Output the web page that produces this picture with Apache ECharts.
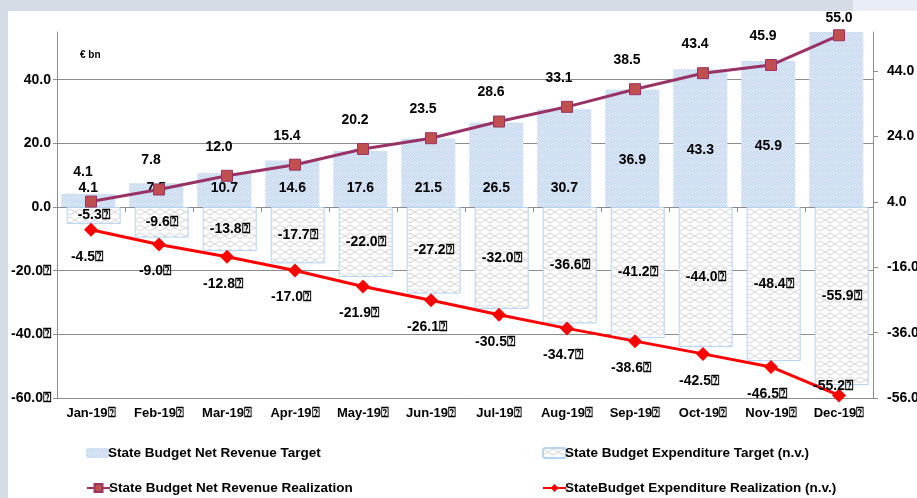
<!DOCTYPE html>
<html>
<head>
<meta charset="utf-8">
<script src="https://cdn.jsdelivr.net/npm/echarts@6/dist/echarts.min.js"></script>
<style>
  body { margin: 0; background: #d6dce5; }
  #panel { position: absolute; left: 8px; top: 11px; right: 0; bottom: 0; background: #fff; }
  #strip { position: absolute; left: 853px; top: 0; width: 64px; height: 11px; background: #e9edf5; }
  #chart { position: absolute; left: 0; top: 0; width: 917px; height: 498px; }
</style>
</head>
<body>
<div id="strip"></div>
<div id="panel"></div>
<div id="chart"></div>
<script>
const months = ['Jan-19', 'Feb-19', 'Mar-19', 'Apr-19', 'May-19', 'Jun-19', 'Jul-19', 'Aug-19', 'Sep-19', 'Oct-19', 'Nov-19', 'Dec-19']
const revenueTarget = [4.1, 7.5, 10.7, 14.6, 17.6, 21.5, 26.5, 30.7, 36.9, 43.3, 45.9, 55.0]
const expenditureTarget = [-5.3, -9.6, -13.8, -17.7, -22.0, -27.2, -32.0, -36.6, -41.2, -44.0, -48.4, -55.9]
const revenueReal = [4.1, 7.8, 12.0, 15.4, 20.2, 23.5, 28.6, 33.1, 38.5, 43.4, 45.9, 55.0]
const expenditureReal = [-4.5, -9.0, -12.8, -17.0, -21.9, -26.1, -30.5, -34.7, -38.6, -42.5, -46.5, -55.2]

const BOX = '\u2370'
const fmt = (v) => v.toFixed(1) + (v < 0 ? BOX : '')
const font = "'Liberation Sans', Arial, sans-serif"

// 柱子填充纹理
function stripePattern () {
  const c = document.createElement('canvas')
  c.width = 6; c.height = 6
  const ctx = c.getContext('2d')
  ctx.fillStyle = '#f3f7fc'
  ctx.fillRect(0, 0, 6, 6)
  ctx.strokeStyle = '#bdd3ef'
  ctx.lineWidth = 1.3
  for (let k = -6; k <= 12; k += 3) {
    ctx.beginPath()
    ctx.moveTo(k, 0)
    ctx.lineTo(k + 6, 6)
    ctx.stroke()
  }
  return c
}
function latticePattern () {
  const c = document.createElement('canvas')
  c.width = 10; c.height = 8
  const ctx = c.getContext('2d')
  ctx.fillStyle = '#fdfdfd'
  ctx.fillRect(0, 0, 10, 8)
  ctx.strokeStyle = '#d6d6d6'
  ctx.lineWidth = 1
  ctx.beginPath()
  ctx.moveTo(0, 1); ctx.lineTo(5, 4); ctx.lineTo(10, 1)
  ctx.moveTo(0, 7); ctx.lineTo(5, 4); ctx.lineTo(10, 7)
  ctx.stroke()
  return c
}

const labelStyle = { fontFamily: font, fontWeight: 'bold', fontSize: 14, color: '#000' }

const revBarData = revenueTarget.map((v, i) => {
  const label = v > 35
    ? { position: 'inside', offset: [0, 12] }
    : { position: 'insideBottom', distance: 12 }
  if (i === revenueTarget.length - 1) label.show = false
  return { value: v, label }
})
const revLineData = revenueReal.map((v, i) => ({
  value: v,
  label: i === revenueReal.length - 1 ? { distance: 4 } : { offset: [-8, 0] }
}))
const expLineData = expenditureReal.map((v, i) => ({
  value: v,
  label: i === expenditureReal.length - 1
    ? { position: 'top', distance: 0, offset: [-6, 5] }
    : { position: 'bottom', distance: 13, offset: [-4, 0] }
}))

const chart = echarts.init(document.getElementById('chart'))
const option = {
  animation: false,
  textStyle: { fontFamily: font },
  grid: { left: 57, right: 44, top: 32, bottom: 100, outerBoundsMode: 'none', containLabel: false },
  graphic: [{
    type: 'text', left: 80, top: 50,
    style: { text: '€ bn', fontFamily: font, fontWeight: 'bold', fontSize: 10, fill: '#000' }
  }],
  legend: [
    { data: ['State Budget Net Revenue Target'], left: 81, top: 441 },
    { data: ['State Budget Expenditure Target (n.v.)'], left: 537, top: 441 },
    { data: ['State Budget Net Revenue Realization'], left: 81, top: 476 },
    { data: ['StateBudget Expenditure Realization (n.v.)'], left: 537, top: 476 }
  ].map((l) => Object.assign(l, {
    itemWidth: 23, itemHeight: 10, itemGap: 0,
    textStyle: { fontFamily: font, fontWeight: 'bold', fontSize: 13.5, color: '#000', padding: [0, 0, 0, -6] }
  })),
  xAxis: [
    {
      type: 'category', data: months, position: 'bottom',
      axisLine: { onZero: false, lineStyle: { color: '#8c8c8c' } },
      axisTick: { show: false },
      axisLabel: { formatter: (v) => v + BOX, fontFamily: font, fontWeight: 'bold', fontSize: 13, color: '#000', margin: 9, interval: 0 }
    },
    {
      type: 'category', data: months, position: 'top',
      axisLine: { onZero: true, lineStyle: { color: '#8c8c8c' } },
      axisTick: { show: true, inside: true, length: 5, lineStyle: { color: '#8c8c8c' } },
      axisLabel: { show: false }
    }
  ],
  yAxis: [
    {
      type: 'value', min: -60, max: 55, interval: 20,
      axisLine: { show: true, lineStyle: { color: '#8c8c8c' } },
      axisTick: { show: true, length: 4, lineStyle: { color: '#8c8c8c' } },
      axisLabel: { formatter: fmt, showMaxLabel: false, fontFamily: font, fontWeight: 'bold', fontSize: 14, color: '#000', margin: 6 },
      splitLine: { showMaxLine: false, lineStyle: { color: '#8c8c8c' } }
    },
    {
      type: 'value', min: -56, max: 56, interval: 20, position: 'right',
      axisLine: { show: true, lineStyle: { color: '#8c8c8c' } },
      axisTick: { show: true, length: 5, lineStyle: { color: '#8c8c8c' } },
      axisLabel: { formatter: (v) => v.toFixed(1), showMaxLabel: false, fontFamily: font, fontWeight: 'bold', fontSize: 14, color: '#000', margin: 14 },
      splitLine: { show: false }
    }
  ],
  series: [
    {
      name: 'State Budget Net Revenue Target',
      type: 'bar', xAxisIndex: 0, yAxisIndex: 0,
      data: revBarData,
      barWidth: 54, barGap: '-90%',
      itemStyle: { color: { image: stripePattern(), repeat: 'repeat' } },
      label: Object.assign({ show: true, formatter: (p) => fmt(p.value) }, labelStyle)
    },
    {
      name: 'State Budget Expenditure Target (n.v.)',
      type: 'bar', xAxisIndex: 0, yAxisIndex: 0,
      data: expenditureTarget,
      barWidth: 54,
      itemStyle: { color: { image: latticePattern(), repeat: 'repeat' }, borderColor: '#b4d4f4', borderWidth: 1 },
      label: Object.assign({ show: true, position: 'inside', formatter: (p) => fmt(p.value) }, labelStyle)
    },
    {
      name: 'State Budget Net Revenue Realization',
      type: 'line', xAxisIndex: 0, yAxisIndex: 1,
      data: revLineData,
      symbol: 'rect', symbolSize: 11,
      lineStyle: { color: '#993366', width: 3 },
      itemStyle: { color: '#c0504d', borderColor: '#993366', borderWidth: 1 },
      label: Object.assign({ show: true, position: 'top', distance: 16, formatter: (p) => fmt(p.value) }, labelStyle),
      z: 5
    },
    {
      name: 'StateBudget Expenditure Realization (n.v.)',
      type: 'line', xAxisIndex: 0, yAxisIndex: 1,
      data: expLineData,
      symbol: 'diamond', symbolSize: 14,
      lineStyle: { color: '#ff0000', width: 3 },
      itemStyle: { color: '#ff0000' },
      label: Object.assign({ show: true, formatter: (p) => fmt(p.value) }, labelStyle),
      z: 5
    }
  ]
}
chart.setOption(option)
</script>
</body>
</html>
